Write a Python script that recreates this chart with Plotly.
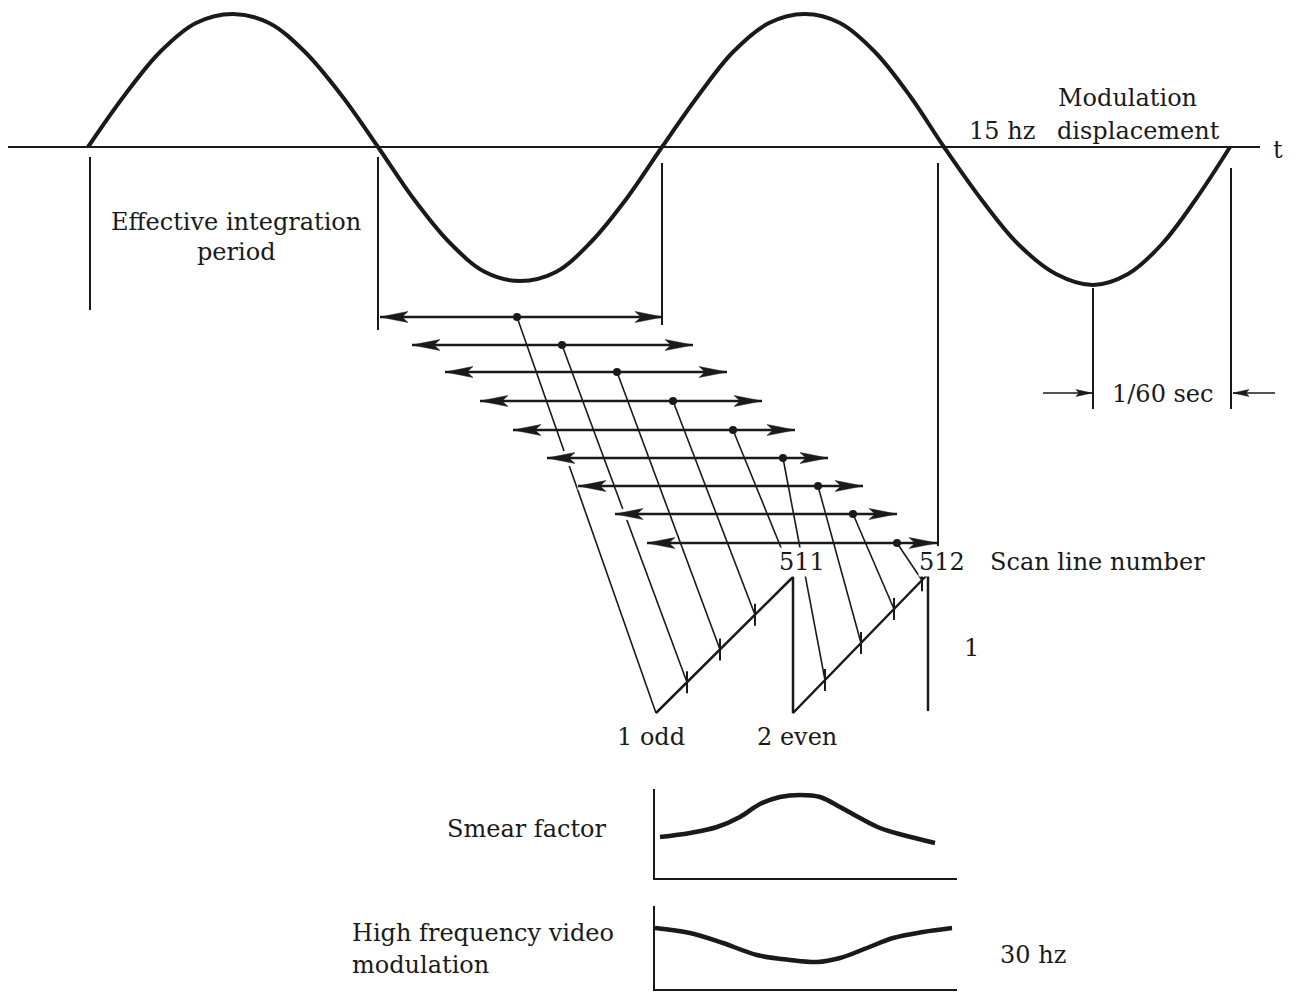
import plotly.graph_objects as go
import numpy as np

INK = "#1a1a1a"
FONT = "DejaVu Serif"
FSIZE = 24

# ---- modulation displacement wave ----
wave_x = [88, 124, 160, 196, 233, 269, 305, 342, 378, 413, 449, 485, 520, 556, 591, 627,
          662, 698, 733, 769, 805, 840, 875, 910, 944, 981, 1018, 1056, 1093, 1128, 1162, 1196, 1230]
wave_y = [147, 96, 52, 23, 14, 23, 52, 96, 147, 198, 242, 272, 281, 272, 242, 198,
          147, 96, 52, 23, 14, 23, 52, 96, 147, 199, 244, 274, 285, 274, 244, 199, 147]
axis_x = [8, 1260]
axis_y = 147

# ---- vertical boundary markers ----
mark_x = [90, 378, 662, 938, 1093, 1231]
mark_top = [157, 157, 163, 163, 288, 168]
mark_bottom = [310, 330, 325, 546, 409, 409]

# ---- scan lines (double-headed arrows) ----
scan_y = [317, 345, 372, 401, 430, 458, 486, 514, 543]
scan_left = [380, 412, 445, 480, 513, 547, 578, 615, 647]
scan_right = [663, 693, 727, 762, 795, 828, 863, 897, 937]
scan_dot = [517, 562, 617, 673, 733, 783, 818, 853, 897]

# ---- interlaced sawtooth ----
saw_x = [656, 793, 793, 928, 928]
saw_y = [713, 577, 713, 574, 711]
tick_x = [687, 720, 755, 825, 861, 894, 922]
conn_x = [656, 687, 720, 755, 793, 825, 861, 894, 922]
conn_ramp = [0, 0, 0, 0, 0, 1, 1, 1, 1]

# ---- 1/60 sec dimension ----
dim_y = 393
dim_from = [1043, 1275]
dim_to = [1092, 1233]

# ---- smear factor / HF video modulation curves ----
smear_x = [660, 690, 717, 740, 760, 780, 800, 820, 840, 860, 880, 903, 935]
smear_y = [837, 833, 827, 817, 804, 797, 795, 797, 807, 818, 828, 835, 843]
smear_axis_x = [654, 654, 957]
smear_axis_y = [789, 879, 879]
hf_x = [655, 690, 723, 757, 790, 817, 840, 867, 893, 923, 952]
hf_y = [928, 933, 943, 955, 960, 962, 958, 948, 938, 932, 928]
hf_axis_x = [654, 654, 957]
hf_axis_y = [906, 990, 990]

# ---- text labels ----
labels = [
    ("Effective integration", 236, 222, "center"),
    ("period", 236, 252, "center"),
    ("Modulation", 1127, 98, "center"),
    ("15 hz", 1002, 131, "center"),
    ("displacement", 1138, 131, "center"),
    ("t", 1278, 150, "center"),
    ("1/60 sec", 1162, 394, "center"),
    ("Scan line number", 1097, 562, "center"),
    ("1", 971, 648, "center"),
    ("1 odd", 651, 737, "center"),
    ("2 even", 797, 737, "center"),
    ("Smear factor", 527, 829, "center"),
    ("High frequency video", 350, 933, "left"),
    ("modulation", 350, 965, "left"),
    ("30 hz", 1033, 955, "center"),
]
masked_labels = [("511", 802, 562), ("512", 942, 562)]


def segs(xs0, ys0, xs1, ys1):
    X, Y = [], []
    for a, b, c, d in zip(xs0, ys0, xs1, ys1):
        X += [a, c, None]
        Y += [b, d, None]
    return X, Y


def heads(tips, ys, dirs, L=28, w=5.5, notch=6):
    X, Y = [], []
    for t, y, d in zip(tips, ys, dirs):
        b = t - d * L
        X += [t, b, t - d * (L - notch), b, t, None]
        Y += [y, y - w, y, y + w, y, None]
    return X, Y


fig = go.Figure()


def line(x, y, width, shape="linear", color=INK):
    fig.add_trace(go.Scatter(x=x, y=y, mode="lines", hoverinfo="skip",
                             line=dict(color=color, width=width, shape=shape)))


def fill(x, y, color=INK, lw=0.5):
    fig.add_trace(go.Scatter(x=x, y=y, mode="lines", fill="toself", fillcolor=color,
                             hoverinfo="skip", line=dict(color=color, width=lw)))


# time axis and wave
line(axis_x, [axis_y, axis_y], 2)
line(wave_x, wave_y, 4, shape="spline")

# vertical markers
mx, my = segs(mark_x, mark_top, mark_x, mark_bottom)
line(mx, my, 2)

# connectors from dots to sawtooth
ramps = [(saw_x[0:2], saw_y[0:2]), (saw_x[2:4], saw_y[2:4])]
conn_y = [float(np.interp(cx, ramps[r][0], ramps[r][1])) for cx, r in zip(conn_x, conn_ramp)]
cx_, cy_ = segs(scan_dot, scan_y, conn_x, conn_y)
line(cx_, cy_, 1.6)

# white halos under arrow heads (gaps where connectors pass behind)
lh = heads(scan_left, scan_y, [-1] * len(scan_y))
rh = heads(scan_right, scan_y, [1] * len(scan_y))
fill(lh[0], lh[1], color="white", lw=7)

# scan line shafts
sx, sy = segs(scan_left, scan_y, scan_right, scan_y)
line(sx, sy, 2.5)
fill(lh[0], lh[1])
fill(rh[0], rh[1])
fig.add_trace(go.Scatter(x=scan_dot, y=scan_y, mode="markers", hoverinfo="skip",
                         marker=dict(color=INK, size=8)))

# sawtooth and ticks
line(saw_x, saw_y, 2.5)
tick_y = [float(np.interp(t, *(ramps[0] if t <= saw_x[1] else ramps[1]))) for t in tick_x]
tx, ty = segs(tick_x, [v - 11 for v in tick_y], tick_x, [v + 11 for v in tick_y])
line(tx, ty, 2)

# dimension arrows
dx, dy = segs(dim_from, [dim_y] * 2, dim_to, [dim_y] * 2)
line(dx, dy, 1.6)
dh = heads(dim_to, [dim_y] * 2, [1, -1], L=16, w=3.5, notch=3)
fill(dh[0], dh[1])

# bottom graphs
line(smear_axis_x, smear_axis_y, 2)
line(smear_x, smear_y, 4.5, shape="spline")
line(hf_axis_x, hf_axis_y, 2)
line(hf_x, hf_y, 4.5, shape="spline")

for text, x, y, al in labels:
    fig.add_annotation(x=x, y=y, text=text, showarrow=False, xanchor=al, yanchor="middle",
                       font=dict(family=FONT, size=FSIZE, color=INK))
for text, x, y in masked_labels:
    fig.add_annotation(x=x, y=y, text=text, showarrow=False, xanchor="center", yanchor="middle",
                       bgcolor="white", borderpad=0,
                       font=dict(family=FONT, size=FSIZE, color=INK))

fig.update_layout(
    width=1296, height=994, margin=dict(l=0, r=0, t=0, b=0),
    paper_bgcolor="white", plot_bgcolor="white", showlegend=False,
    xaxis=dict(range=[0, 1296], visible=False, fixedrange=True),
    yaxis=dict(range=[994, 0], visible=False, fixedrange=True),
)
fig.write_html("out.html", config={"displayModeBar": False},
               post_script="document.body.style.margin='0';")
